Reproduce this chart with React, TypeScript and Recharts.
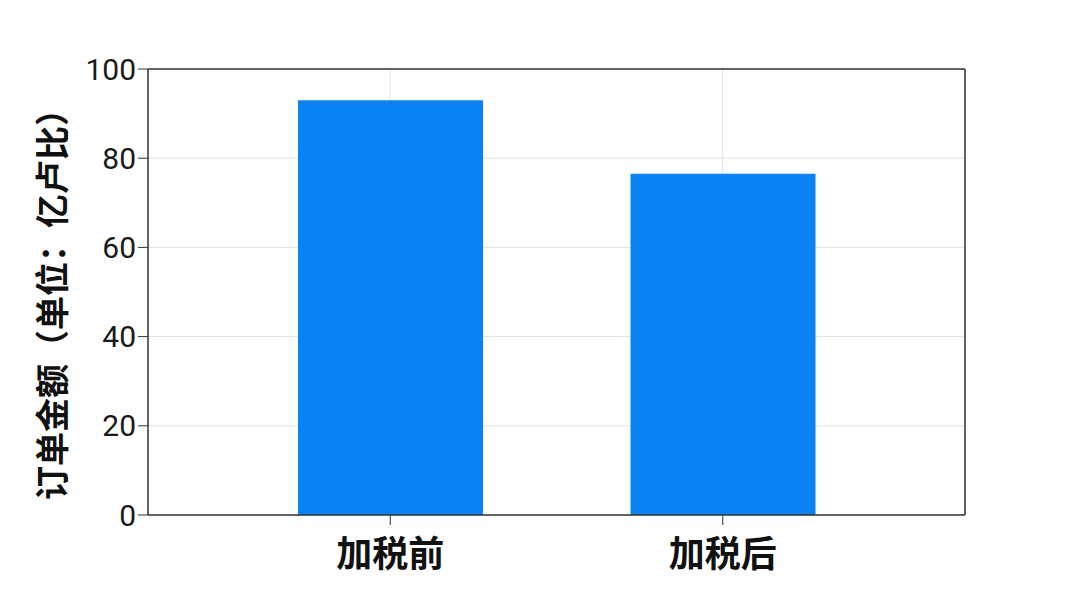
import { BarChart, Bar, XAxis, YAxis, CartesianGrid } from 'recharts';

const categories = ['加税前', '加税后'];
const orderValues = [93, 76.5];
const yTicks = [0, 20, 40, 60, 80, 100];
const yLabel = '订单金额（单位：亿卢比）';

const data = categories.map((name, i) => ({ name, value: orderValues[i] }));

const FONT = '"Noto Sans CJK SC", "Noto Sans", sans-serif';

function YLabel(props: any) {
  const { viewBox } = props;
  const cx = 50;
  const cy = viewBox.y + viewBox.height / 2 + 4;
  return (
    <text
      x={cx}
      y={cy}
      transform={`rotate(-90 ${cx} ${cy})`}
      textAnchor="middle"
      dominantBaseline="central"
      fontSize={34}
      fontWeight={700}
      fill="#111"
      fontFamily={FONT}
    >
      {yLabel}
    </text>
  );
}

export default function App() {
  return (
    <div style={{ position: 'absolute', left: 0, top: 0, width: 1080, height: 608, background: '#fff' }}>
      <BarChart
        width={1080}
        height={608}
        data={data}
        margin={{ top: 69, right: 115, bottom: 33, left: 78 }}
      >
        <CartesianGrid stroke="#dde2e8" strokeWidth={1} />
        {/* dark frame on top and right edges */}
        <CartesianGrid
          stroke="#333"
          strokeWidth={1.5}
          horizontalCoordinatesGenerator={({ offset }: any) => [offset.top]}
          verticalCoordinatesGenerator={({ offset }: any) => [offset.left + offset.width]}
        />
        <XAxis
          dataKey="name"
          padding={{ left: 76, right: 76 }}
          height={60}
          tickSize={10}
          axisLine={{ stroke: '#333', strokeWidth: 1.5 }}
          tickLine={{ stroke: '#333' }}
          tick={{ fontSize: 36, fill: '#111', fontFamily: FONT, fontWeight: 700, dy: 14 }}
        />
        <YAxis
          domain={[0, 100]}
          ticks={yTicks}
          width={70}
          tickSize={10}
          axisLine={{ stroke: '#333', strokeWidth: 1.5 }}
          tickLine={{ stroke: '#333' }}
          tick={{ fontSize: 30, fill: '#1a1a1a', fontFamily: 'Roboto, sans-serif' }}
          label={<YLabel />}
        />
        <Bar dataKey="value" fill="#0a82f4" barSize={185} isAnimationActive={false} />
      </BarChart>
    </div>
  );
}
